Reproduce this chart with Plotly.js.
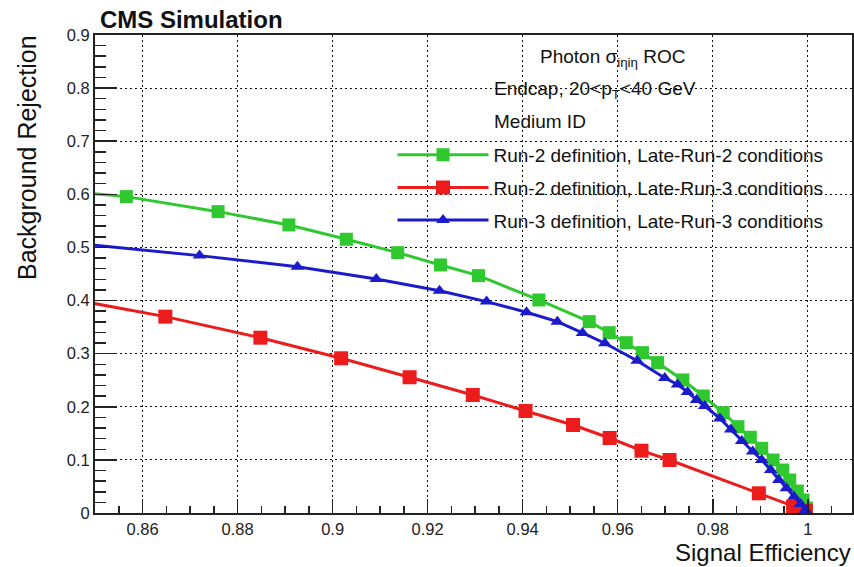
<!DOCTYPE html>
<html>
<head>
<meta charset="utf-8">
<script src="https://cdn.plot.ly/plotly-3.0.1.min.js"></script>
<style>html,body{margin:0;padding:0;background:#fff;}#chart{width:854px;height:567px;}</style>
</head>
<body>
<div id="chart"></div>
<script>
// ---- data ----
const seriesNames = [
  "Run-2 definition, Late-Run-2 conditions",
  "Run-2 definition, Late-Run-3 conditions",
  "Run-3 definition, Late-Run-3 conditions"
];
const effGreen = [0.848, 0.8566, 0.8759, 0.8908, 0.9029, 0.9137, 0.9227, 0.9307, 0.9434, 0.9540, 0.9582, 0.9618, 0.9652, 0.9684, 0.9737, 0.9780, 0.9822, 0.9853, 0.9879, 0.9903, 0.9927, 0.9947, 0.9962, 0.9978, 0.9990, 0.9997];
const rejGreen = [0.603, 0.5957, 0.5674, 0.5424, 0.5154, 0.4902, 0.4670, 0.4469, 0.4011, 0.3603, 0.3395, 0.3207, 0.3019, 0.2831, 0.2505, 0.2203, 0.1889, 0.1625, 0.1426, 0.1218, 0.0998, 0.0809, 0.0621, 0.0414, 0.0245, 0.0094];
const effRed = [0.848, 0.8648, 0.8848, 0.9018, 0.9162, 0.9295, 0.9406, 0.9506, 0.9583, 0.9650, 0.9709, 0.9897, 0.9969, 0.9996];
const rejRed = [0.3975, 0.3697, 0.3301, 0.2913, 0.2556, 0.2222, 0.1921, 0.1657, 0.1412, 0.1173, 0.0998, 0.0371, 0.0119, 0.0040];
const effBlue = [0.848, 0.8720, 0.8926, 0.9092, 0.9225, 0.9324, 0.9408, 0.9473, 0.9526, 0.9573, 0.9641, 0.9699, 0.9726, 0.9747, 0.9766, 0.9783, 0.9815, 0.9838, 0.9861, 0.9884, 0.9903, 0.9922, 0.9939, 0.9955, 0.9971, 0.9985, 0.9995];
const rejBlue = [0.506, 0.4846, 0.4638, 0.4407, 0.4186, 0.3980, 0.3780, 0.3603, 0.3390, 0.3196, 0.2868, 0.2542, 0.2420, 0.2279, 0.2128, 0.2015, 0.1780, 0.1573, 0.1356, 0.1158, 0.0998, 0.0810, 0.0621, 0.0465, 0.0308, 0.0169, 0.0056];
const xTickVals = [0.86, 0.88, 0.9, 0.92, 0.94, 0.96, 0.98, 1.0];
const xTickText = ["0.86", "0.88", "0.9", "0.92", "0.94", "0.96", "0.98", "1"];
const yTickVals = [0, 0.1, 0.2, 0.3, 0.4, 0.5, 0.6, 0.7, 0.8, 0.9];
const yTickText = ["0", "0.1", "0.2", "0.3", "0.4", "0.5", "0.6", "0.7", "0.8", "0.9"];

const FONT = "Liberation Sans, Arial, Helvetica, sans-serif";
const cGreen = "#2fc82f", cRed = "#ec1c1c", cBlue = "#1b1bcc";

function tr(x, y, name, color, symbol, size, grp) {
  return {
    x: x, y: y, name: name, type: "scatter", mode: "lines+markers",
    legendgroup: grp,
    line: {color: color, width: 3},
    marker: {color: color, symbol: symbol, size: size, line: {width: 0}},
    cliponaxis: true
  };
}
const data = [
  tr(effGreen, rejGreen, seriesNames[0], cGreen, "square", 13, "g1"),
  tr(effRed, rejRed, seriesNames[1], cRed, "square", 14, "g2"),
  tr(effBlue, rejBlue, seriesNames[2], cBlue, "triangle-up", 12, "g3")
];

const axisCommon = {
  showline: true, mirror: true, linecolor: "#222", linewidth: 2,
  ticks: "inside", tickcolor: "#222", tickwidth: 1.5,
  showgrid: true, gridcolor: "#111", gridwidth: 1.2, griddash: "2px,3px",
  zeroline: false,
  tickfont: {family: FONT, size: 16.5, color: "#222"},
  tickmode: "array"
};

const layout = {
  width: 854, height: 567,
  margin: {l: 95, r: 2, t: 35, b: 54},
  paper_bgcolor: "#fff", plot_bgcolor: "#fff",
  font: {family: FONT, color: "#111"},
  title: {
    text: "<b>CMS Simulation</b>",
    font: {family: FONT, size: 24, color: "#111"},
    x: 0.117, xanchor: "left", xref: "container",
    y: 0.966, yanchor: "middle"
  },
  xaxis: Object.assign({}, axisCommon, {
    range: [0.85, 1.0093],
    tickvals: xTickVals, ticktext: xTickText, ticklen: 14,
    minor: {dtick: 0.005, tick0: 0, ticks: "inside", ticklen: 7, tickcolor: "#222", tickwidth: 1.5, showgrid: false}
  }),
  yaxis: Object.assign({}, axisCommon, {
    range: [0, 0.9],
    tickvals: yTickVals, ticktext: yTickText, ticklen: 22,
    minor: {dtick: 0.02, tick0: 0, ticks: "inside", ticklen: 11, tickcolor: "#222", tickwidth: 1.5, showgrid: false}
  }),
  showlegend: true,
  legend: {
    x: 0.393, xanchor: "left", y: 0.789, yanchor: "top",
    bgcolor: "rgba(0,0,0,0)", borderwidth: 0,
    font: {family: FONT, size: 19, color: "#111"},
    traceorder: "grouped", tracegroupgap: 5,
    itemwidth: 91
  },
  annotations: [
    {text: "Photon σ<sub>iηiη</sub> ROC", xref: "paper", yref: "paper", x: 0.6836, y: 0.952,
     xanchor: "center", yanchor: "middle", showarrow: false, font: {family: FONT, size: 19, color: "#111"}},
    {text: "Endcap, 20&lt;p<sub>T</sub>&lt;40 GeV", xref: "paper", yref: "paper", x: 0.524, y: 0.885,
     xanchor: "left", yanchor: "middle", showarrow: false, font: {family: FONT, size: 19, color: "#111"}},
    {text: "Medium ID", xref: "paper", yref: "paper", x: 0.524, y: 0.818,
     xanchor: "left", yanchor: "middle", showarrow: false, font: {family: FONT, size: 19, color: "#111"}},
    {text: "Background Rejection", xref: "paper", yref: "paper", x: -0.09, y: 1.005,
     xanchor: "center", yanchor: "top", textangle: -90, showarrow: false,
     font: {family: FONT, size: 25, color: "#111"}},
    {text: "Signal Efficiency", xref: "paper", yref: "paper", x: 1.0, y: -0.113,
     xanchor: "right", yanchor: "bottom", showarrow: false, borderpad: 0,
     font: {family: FONT, size: 24, color: "#111"}}
  ]
};

Plotly.newPlot("chart", data, layout, {displayModeBar: false, staticPlot: true});
</script>
</body>
</html>
